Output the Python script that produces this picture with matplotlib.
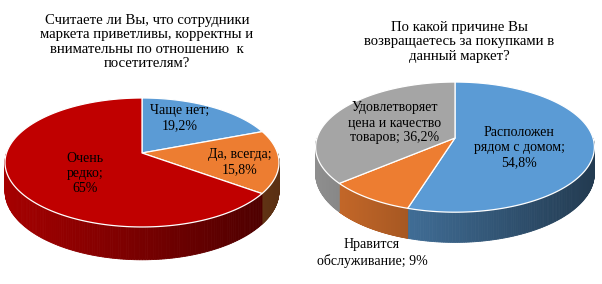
import numpy as np
import matplotlib.pyplot as plt
from matplotlib.colors import to_rgb

# данные
left_title = 'Считаете ли Вы, что сотрудники\nмаркета приветливы, корректны и\nвнимательны по отношению  к\nпосетителям?'
left_cats = ['Чаще нет', 'Да, всегда', 'Очень\nредко']
left_seps = [';\n', ';\n', ';\n']
left_vals = [19.2, 15.8, 65]
left_colors = ['#5B9BD5', '#ED7D31', '#C00000']

right_title = 'По какой причине Вы\nвозвращаетесь за покупками в\nданный маркет?'
right_cats = ['Расположен\nрядом с домом', 'Нравится\nобслуживание', 'Удовлетворяет\nцена и качество\nтоваров']
right_seps = [';\n', '; ', '; ']
right_vals = [54.8, 9, 36.2]
right_colors = ['#5B9BD5', '#ED7D31', '#A5A5A5']

FONT = 'Liberation Serif'

fig = plt.figure(figsize=(6.02, 2.84), dpi=100)
ax = fig.add_axes([0, 0, 1, 1])
ax.set_xlim(0, 602)
ax.set_ylim(284, 0)
ax.axis('off')


def shade(color, f):
    r, g, b = to_rgb(color)
    return (r * f, g * f, b * f)


def pie3d(vals, colors, cx, cy, R, S, k, depth):
    # (cx, cy) - центр диска, k - перспектива
    vals = np.array(vals, dtype=float)
    frac = vals / vals.sum()
    bounds = 90 - 360 * np.concatenate([[0], np.cumsum(frac)])

    def proj(t):
        w = 1 + k * np.sin(t)
        return cx + R * np.cos(t) / w, cy - S * np.sin(t) / w, depth / w

    # боковая стенка
    for i, c in enumerate(colors):
        t = np.radians(np.linspace(bounds[i], bounds[i + 1], 240))
        for t1, t2 in zip(t[:-1], t[1:]):
            if np.sin((t1 + t2) / 2) >= 0:
                continue
            x1, y1, d1 = proj(t1)
            x2, y2, d2 = proj(t2)
            u = ((x1 + x2) / 2 - (cx - R)) / (2 * R)
            col = shade(c, 0.86 - 0.48 * u)
            ax.fill([x1, x2, x2, x1], [y1, y2, y2 + d2, y1 + d1],
                    color=col, lw=0.6, ec=col)
    # верхняя грань
    for i, c in enumerate(colors):
        t = np.radians(np.linspace(bounds[i], bounds[i + 1], 240))
        x, y, _ = proj(t)
        ax.fill(np.concatenate([[cx], x]), np.concatenate([[cy], y]),
                fc=c, ec='white', lw=0.9, joinstyle='round')


def fmt(v):
    return ('%g' % v).replace('.', ',') + '%'


pie3d(left_vals, left_colors, 142, 153, 135.5, 63.1, 0.147, 28)
pie3d(right_vals, right_colors, 455, 138, 138, 63.8, 0.14, 26)

ax.text(147, 42, left_title, ha='center', va='center', fontsize=10.6,
        family=FONT, linespacing=1.15)
ax.text(459, 42, right_title, ha='center', va='center', fontsize=10.6,
        family=FONT, linespacing=1.15)

left_pos = [(180, 118), (240, 162), (85, 173)]
right_pos = [(519, 148), (372, 253), (395, 123)]
for cats, seps, vals, pos in [(left_cats, left_seps, left_vals, left_pos),
                              (right_cats, right_seps, right_vals, right_pos)]:
    for cat, sep, v, (x, y) in zip(cats, seps, vals, pos):
        ax.text(x, y, cat + sep + fmt(v), ha='center', va='center',
                fontsize=10, family=FONT, linespacing=1.2)

fig.savefig('out.png', dpi=100, facecolor='white')
